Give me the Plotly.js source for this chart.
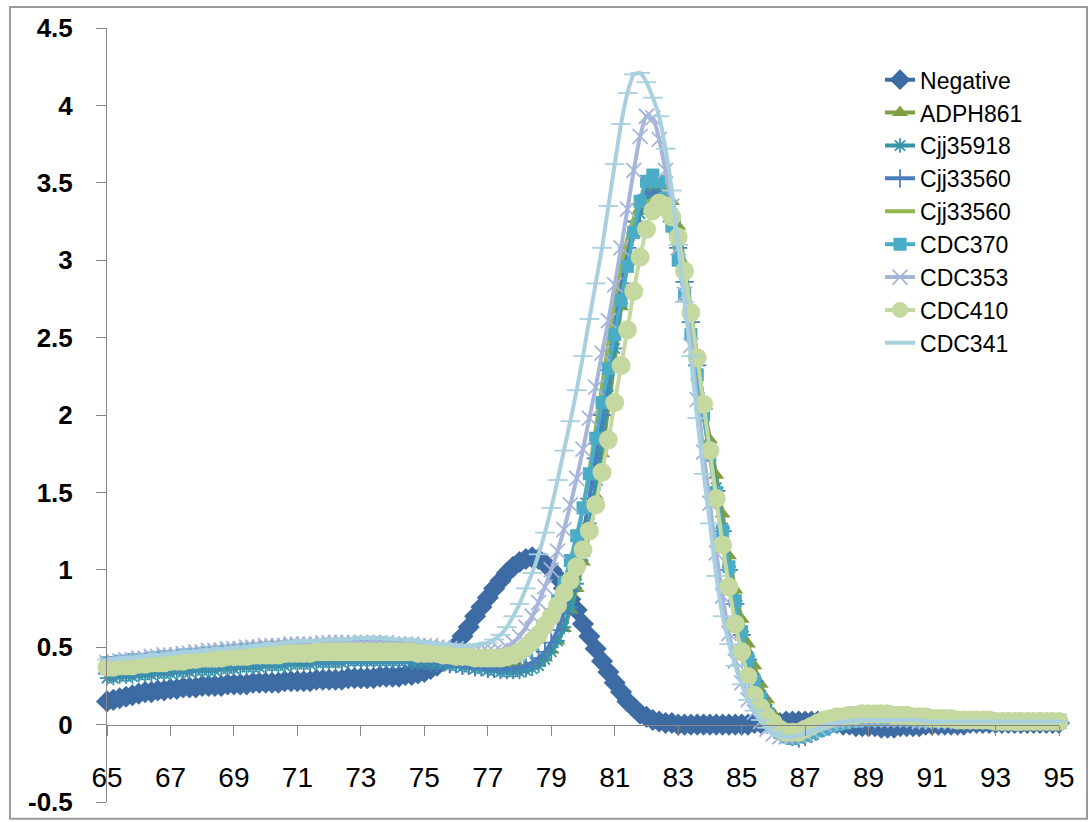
<!DOCTYPE html>
<html>
<head>
<meta charset="utf-8">
<script src="https://cdn.plot.ly/plotly-3.0.1.min.js"></script>
<style>html,body{margin:0;padding:0;background:#fff;}#chart{width:1091px;height:822px;}</style>
</head>
<body>
<div id="chart"></div>
<script>
// Temperature grid (°C): 65.0 to 95.0 in 0.2 steps
const T_START = 65.0;
const T_STEP = 0.2;

const seriesNames = ["Negative","ADPH861","Cjj35918","Cjj33560","Cjj33560","CDC370","CDC353","CDC410","CDC341"];

const negative = [
0.15,0.16,0.17,0.18,0.19,0.20,0.21,0.21,0.22,0.22,
0.23,0.23,0.24,0.24,0.24,0.25,0.25,0.25,0.25,0.26,
0.26,0.26,0.26,0.27,0.27,0.27,0.27,0.27,0.28,0.28,
0.28,0.28,0.28,0.29,0.29,0.29,0.29,0.29,0.30,0.30,
0.30,0.30,0.30,0.31,0.31,0.31,0.31,0.32,0.32,0.33,
0.34,0.36,0.38,0.42,0.46,0.51,0.57,0.63,0.70,0.76,
0.82,0.88,0.93,0.98,1.02,1.05,1.07,1.08,1.07,1.04,
1.00,0.95,0.88,0.81,0.74,0.65,0.57,0.49,0.41,0.34,
0.27,0.21,0.15,0.11,0.07,0.05,0.03,0.02,0.01,0.01,
0.00,0.00,0.00,0.00,0.00,0.00,0.00,0.00,0.00,0.00,
0.00,0.00,0.01,0.01,0.01,0.01,0.01,0.02,0.02,0.02,
0.02,0.02,0.02,0.01,0.01,0.01,0.00,0.00,-0.01,-0.01,
-0.01,-0.01,-0.02,-0.02,-0.02,-0.01,-0.01,-0.01,-0.01,0.00,
0.00,0.00,0.00,0.00,0.00,0.00,0.01,0.01,0.01,0.01,
0.01,0.01,0.01,0.01,0.01,0.01,0.01,0.01,0.01,0.01,
0.01];

const adph861 = [
0.37,0.38,0.39,0.40,0.40,0.41,0.42,0.42,0.43,0.43,
0.44,0.44,0.45,0.45,0.46,0.46,0.47,0.47,0.48,0.48,
0.49,0.49,0.50,0.50,0.50,0.51,0.51,0.51,0.52,0.52,
0.52,0.52,0.52,0.52,0.52,0.52,0.52,0.52,0.52,0.51,
0.51,0.51,0.51,0.51,0.50,0.50,0.50,0.49,0.49,0.48,
0.47,0.46,0.46,0.45,0.44,0.43,0.42,0.41,0.41,0.40,
0.39,0.38,0.38,0.37,0.37,0.37,0.37,0.38,0.40,0.43,
0.48,0.54,0.62,0.74,0.88,1.05,1.25,1.48,1.75,2.05,
2.35,2.70,3.00,3.20,3.33,3.42,3.47,3.48,3.45,3.38,
3.22,2.97,2.68,2.37,2.08,1.84,1.61,1.36,1.09,0.87,
0.68,0.52,0.38,0.26,0.16,0.07,0.00,-0.05,-0.07,-0.07,
-0.06,-0.04,-0.02,0.01,0.03,0.04,0.05,0.06,0.06,0.07,
0.07,0.07,0.07,0.07,0.07,0.06,0.06,0.06,0.05,0.05,
0.05,0.05,0.04,0.04,0.04,0.04,0.04,0.04,0.03,0.03,
0.03,0.03,0.03,0.03,0.03,0.03,0.03,0.03,0.03,0.03,
0.03];

const cjj35918 = [
0.30,0.30,0.31,0.31,0.31,0.32,0.32,0.32,0.33,0.33,
0.33,0.34,0.34,0.34,0.35,0.35,0.35,0.35,0.36,0.36,
0.36,0.37,0.37,0.37,0.37,0.38,0.38,0.38,0.38,0.39,
0.39,0.39,0.39,0.40,0.40,0.40,0.40,0.40,0.41,0.41,
0.41,0.41,0.41,0.41,0.41,0.41,0.41,0.41,0.40,0.40,
0.40,0.39,0.39,0.39,0.38,0.38,0.37,0.37,0.36,0.36,
0.35,0.35,0.34,0.34,0.34,0.34,0.35,0.36,0.38,0.42,
0.47,0.54,0.63,0.76,0.91,1.09,1.30,1.55,1.83,2.13,
2.43,2.72,2.97,3.17,3.30,3.39,3.43,3.43,3.39,3.30,
3.14,2.92,2.65,2.36,2.07,1.79,1.53,1.27,1.02,0.80,
0.60,0.44,0.30,0.19,0.10,0.03,-0.03,-0.07,-0.09,-0.09,
-0.08,-0.07,-0.05,-0.03,-0.01,0.00,0.01,0.02,0.02,0.03,
0.03,0.03,0.03,0.03,0.03,0.03,0.03,0.02,0.02,0.02,
0.02,0.02,0.02,0.02,0.02,0.02,0.02,0.02,0.02,0.02,
0.02,0.02,0.02,0.02,0.02,0.02,0.02,0.02,0.02,0.02,
0.02];

const cjj33560a = [
0.33,0.33,0.34,0.34,0.35,0.35,0.36,0.36,0.36,0.37,
0.37,0.38,0.38,0.38,0.39,0.39,0.39,0.40,0.40,0.40,
0.41,0.41,0.41,0.41,0.42,0.42,0.42,0.42,0.42,0.43,
0.43,0.43,0.43,0.43,0.43,0.43,0.43,0.43,0.43,0.43,
0.43,0.43,0.43,0.43,0.43,0.42,0.42,0.42,0.42,0.41,
0.41,0.41,0.40,0.40,0.39,0.39,0.38,0.38,0.37,0.37,
0.36,0.36,0.36,0.36,0.36,0.37,0.38,0.40,0.43,0.47,
0.53,0.61,0.72,0.86,1.03,1.23,1.46,1.72,2.00,2.29,
2.58,2.85,3.08,3.25,3.36,3.42,3.44,3.42,3.36,3.25,
3.08,2.86,2.60,2.32,2.04,1.77,1.51,1.25,1.00,0.78,
0.58,0.42,0.28,0.17,0.09,0.02,-0.03,-0.07,-0.08,-0.09,
-0.08,-0.06,-0.04,-0.02,0.00,0.01,0.02,0.03,0.03,0.03,
0.03,0.03,0.03,0.03,0.03,0.03,0.03,0.02,0.02,0.02,
0.02,0.02,0.02,0.02,0.02,0.02,0.02,0.02,0.02,0.02,
0.02,0.02,0.02,0.02,0.02,0.02,0.02,0.02,0.02,0.02,
0.02];

const cjj33560b = [
0.38,0.39,0.39,0.40,0.40,0.41,0.41,0.42,0.42,0.43,
0.43,0.44,0.44,0.45,0.45,0.45,0.46,0.46,0.47,0.47,
0.47,0.48,0.48,0.48,0.49,0.49,0.49,0.49,0.50,0.50,
0.50,0.50,0.50,0.50,0.50,0.50,0.50,0.50,0.50,0.50,
0.50,0.50,0.50,0.49,0.49,0.49,0.49,0.48,0.48,0.48,
0.47,0.47,0.46,0.46,0.45,0.45,0.44,0.44,0.43,0.43,
0.42,0.42,0.42,0.42,0.43,0.44,0.46,0.49,0.53,0.58,
0.65,0.74,0.86,1.01,1.19,1.40,1.64,1.91,2.19,2.47,
2.73,2.96,3.14,3.27,3.35,3.38,3.38,3.34,3.27,3.15,
2.98,2.77,2.52,2.26,1.99,1.73,1.47,1.22,0.98,0.76,
0.57,0.41,0.28,0.17,0.09,0.03,-0.02,-0.05,-0.06,-0.06,
-0.05,-0.03,-0.01,0.01,0.03,0.04,0.05,0.06,0.06,0.06,
0.06,0.06,0.06,0.06,0.06,0.05,0.05,0.05,0.04,0.04,
0.04,0.04,0.04,0.03,0.03,0.03,0.03,0.03,0.03,0.03,
0.03,0.03,0.03,0.03,0.03,0.03,0.03,0.03,0.03,0.03,
0.03];

const cdc370 = [
0.40,0.40,0.41,0.41,0.42,0.42,0.42,0.43,0.43,0.44,
0.44,0.44,0.45,0.45,0.45,0.46,0.46,0.46,0.47,0.47,
0.47,0.48,0.48,0.48,0.49,0.49,0.49,0.49,0.50,0.50,
0.50,0.50,0.50,0.50,0.50,0.51,0.51,0.51,0.51,0.51,
0.51,0.51,0.50,0.50,0.50,0.50,0.50,0.49,0.49,0.49,
0.48,0.48,0.47,0.47,0.46,0.46,0.45,0.45,0.44,0.44,
0.43,0.43,0.43,0.43,0.44,0.45,0.48,0.52,0.57,0.63,
0.71,0.80,0.92,1.06,1.22,1.40,1.62,1.85,2.08,2.30,
2.52,2.74,2.96,3.18,3.38,3.51,3.55,3.51,3.40,3.22,
3.00,2.78,2.52,2.26,2.00,1.74,1.50,1.25,1.02,0.80,
0.60,0.42,0.28,0.17,0.07,0.00,-0.05,-0.08,-0.09,-0.08,
-0.07,-0.05,-0.04,-0.03,-0.01,0.00,0.01,0.02,0.02,0.03,
0.03,0.03,0.03,0.03,0.03,0.03,0.03,0.03,0.02,0.02,
0.02,0.02,0.02,0.02,0.02,0.02,0.02,0.02,0.02,0.02,
0.02,0.02,0.02,0.02,0.02,0.02,0.02,0.02,0.02,0.02,
0.02];

const cdc353 = [
0.40,0.41,0.41,0.42,0.42,0.43,0.43,0.44,0.44,0.45,
0.45,0.45,0.46,0.46,0.47,0.47,0.48,0.48,0.48,0.49,
0.49,0.49,0.50,0.50,0.50,0.51,0.51,0.51,0.51,0.52,
0.52,0.52,0.52,0.52,0.53,0.53,0.53,0.53,0.53,0.53,
0.53,0.53,0.53,0.53,0.53,0.52,0.52,0.52,0.52,0.51,
0.51,0.51,0.50,0.50,0.49,0.49,0.48,0.48,0.47,0.47,
0.47,0.47,0.48,0.50,0.53,0.57,0.63,0.70,0.79,0.89,
1.00,1.12,1.26,1.42,1.59,1.78,1.98,2.18,2.40,2.61,
2.84,3.08,3.33,3.58,3.80,3.93,3.92,3.78,3.58,3.35,
3.08,2.78,2.45,2.10,1.76,1.43,1.11,0.83,0.59,0.41,
0.27,0.16,0.08,0.02,-0.03,-0.06,-0.08,-0.08,-0.08,-0.07,
-0.06,-0.04,-0.02,0.00,0.01,0.02,0.02,0.03,0.03,0.03,
0.03,0.03,0.03,0.03,0.03,0.03,0.03,0.03,0.02,0.02,
0.02,0.02,0.02,0.02,0.02,0.02,0.02,0.02,0.02,0.02,
0.02,0.02,0.02,0.02,0.02,0.02,0.02,0.02,0.02,0.02,
0.02];

const cdc410 = [
0.37,0.37,0.38,0.38,0.38,0.39,0.39,0.40,0.40,0.40,
0.41,0.41,0.41,0.42,0.42,0.43,0.43,0.43,0.43,0.44,
0.44,0.44,0.44,0.45,0.45,0.45,0.45,0.45,0.46,0.46,
0.46,0.46,0.46,0.47,0.47,0.47,0.47,0.47,0.47,0.47,
0.47,0.47,0.47,0.47,0.47,0.47,0.47,0.47,0.47,0.46,
0.46,0.46,0.46,0.45,0.45,0.44,0.44,0.44,0.43,0.43,
0.43,0.43,0.43,0.44,0.45,0.47,0.50,0.54,0.58,0.64,
0.70,0.77,0.85,0.93,1.02,1.13,1.25,1.42,1.63,1.84,
2.08,2.32,2.55,2.80,3.02,3.20,3.32,3.37,3.35,3.28,
3.15,2.93,2.66,2.37,2.07,1.77,1.46,1.16,0.89,0.65,
0.47,0.31,0.19,0.11,0.05,0.01,-0.03,-0.05,-0.05,-0.05,
-0.03,-0.01,0.01,0.03,0.04,0.05,0.05,0.06,0.06,0.07,
0.07,0.07,0.07,0.07,0.06,0.06,0.06,0.05,0.05,0.05,
0.04,0.04,0.04,0.04,0.03,0.03,0.03,0.03,0.03,0.03,
0.02,0.02,0.02,0.02,0.02,0.02,0.02,0.02,0.02,0.02,
0.02];

const cdc341 = [
0.42,0.42,0.43,0.43,0.43,0.44,0.44,0.45,0.45,0.45,
0.46,0.46,0.47,0.47,0.47,0.48,0.48,0.49,0.49,0.49,
0.50,0.50,0.50,0.51,0.51,0.52,0.52,0.52,0.53,0.53,
0.54,0.54,0.54,0.54,0.55,0.55,0.55,0.55,0.55,0.56,
0.56,0.56,0.56,0.56,0.56,0.55,0.55,0.55,0.55,0.54,
0.53,0.53,0.52,0.52,0.52,0.51,0.51,0.51,0.51,0.52,
0.53,0.55,0.58,0.63,0.70,0.78,0.88,0.98,1.10,1.24,
1.40,1.58,1.77,1.96,2.16,2.38,2.62,2.85,3.08,3.35,
3.62,3.88,4.08,4.20,4.21,4.15,4.05,3.93,3.72,3.45,
3.10,2.73,2.38,1.98,1.62,1.30,0.96,0.70,0.52,0.38,
0.26,0.16,0.09,0.03,-0.02,-0.05,-0.07,-0.08,-0.08,-0.07,
-0.06,-0.04,-0.03,-0.01,0.00,0.01,0.02,0.02,0.03,0.03,
0.03,0.03,0.03,0.03,0.03,0.03,0.03,0.03,0.03,0.02,
0.02,0.02,0.02,0.02,0.02,0.02,0.02,0.02,0.02,0.02,
0.02,0.02,0.02,0.02,0.02,0.02,0.02,0.02,0.02,0.02,
0.02];

const xTickVals = [65,67,69,71,73,75,77,79,81,83,85,87,89,91,93,95];
const xTickText = ["65","67","69","71","73","75","77","79","81","83","85","87","89","91","93","95"];
const yTickVals = [-0.5,0,0.5,1,1.5,2,2.5,3,3.5,4,4.5];
const yTickText = ["-0.5","0","0.5","1","1.5","2","2.5","3","3.5","4","4.5"];

const allValues = [negative, adph861, cjj35918, cjj33560a, cjj33560b, cdc370, cdc353, cdc410, cdc341];
const temps = negative.map((_, i) => Math.round((T_START + T_STEP * i) * 10) / 10);

const styles = [
  {color:'#3D6BA3', symbol:'diamond', size:17, open:false, lw:4},
  {color:'#7E9F44', symbol:'triangle-up', size:14, open:false, lw:4},
  {color:'#3795A9', symbol:'asterisk-open', size:12, open:true, lw:4},
  {color:'#4A7EBB', symbol:'cross-thin-open', size:13, open:true, lw:4},
  {color:'#94B650', symbol:null, size:0, open:false, lw:4},
  {color:'#4BACC6', symbol:'square', size:13, open:false, lw:4},
  {color:'#A6B5D9', symbol:'x-thin-open', size:15, open:true, lw:4},
  {color:'#C4D8A0', symbol:'circle', size:19, open:false, lw:4},
  {color:'#A8D0DF', symbol:'line-ew-open', size:14, open:true, lw:4}
];

const traces = allValues.map((vals, k) => {
  const s = styles[k];
  const t = {
    type:'scatter',
    x: temps,
    y: vals,
    name: seriesNames[k],
    cliponaxis: false,
    line: {color: s.color, width: s.lw, shape:'spline', smoothing:0.6},
  };
  if (s.symbol) {
    t.mode = 'lines+markers';
    t.marker = s.open
      ? {symbol: s.symbol, size: s.size, color: s.color, line:{color: s.color, width: 1.8}}
      : {symbol: s.symbol, size: s.size, color: s.color, line:{width:0}};
  } else {
    t.mode = 'lines';
  }
  return t;
});

const axisGray = '#868686';
const layout = {
  width: 1091, height: 822,
  margin: {l:107, r:32, t:28, b:20, pad:0},
  paper_bgcolor:'#ffffff', plot_bgcolor:'#ffffff',
  showlegend: true,
  legend: {
    x: 0.812, y: 0.961, xanchor:'left', yanchor:'top',
    font: {family:'Liberation Sans, Arial, sans-serif', size:23, color:'#000000'},
    bgcolor:'rgba(0,0,0,0)', borderwidth:0, tracegroupgap:0
  },
  xaxis: {
    range:[65,95], anchor:'free', position:0.1,
    tickmode:'array', tickvals:xTickVals, ticktext:xTickText,
    ticks:'outside', ticklen:10, tickcolor:axisGray, tickwidth:1,
    showline:true, linecolor:axisGray, linewidth:1,
    showgrid:false, zeroline:false,
    ticklabelstandoff: 18,
    tickfont:{family:'Liberation Sans, Arial, sans-serif', size:28, color:'#000000'}
  },
  yaxis: {
    range:[-0.5,4.5],
    tickmode:'array', tickvals:yTickVals, ticktext:yTickText,
    ticks:'outside', ticklen:10, tickcolor:axisGray, tickwidth:1,
    showline:true, linecolor:axisGray, linewidth:1,
    showgrid:false, zeroline:false,
    ticklabelstandoff: 18,
    tickfont:{family:'Liberation Sans, Arial, sans-serif', size:26, color:'#000000', weight:'bold'}
  },
  shapes: [{
    type:'rect', xref:'paper', yref:'paper',
    x0:-0.1019, x1:1.0294, y0:-0.0215, y1:1.0271,
    line:{color:'#9a9a9a', width:2}, fillcolor:'rgba(0,0,0,0)', layer:'below'
  }]
};

Plotly.newPlot('chart', traces, layout, {displayModeBar:false, staticPlot:true});
</script>
</body>
</html>
